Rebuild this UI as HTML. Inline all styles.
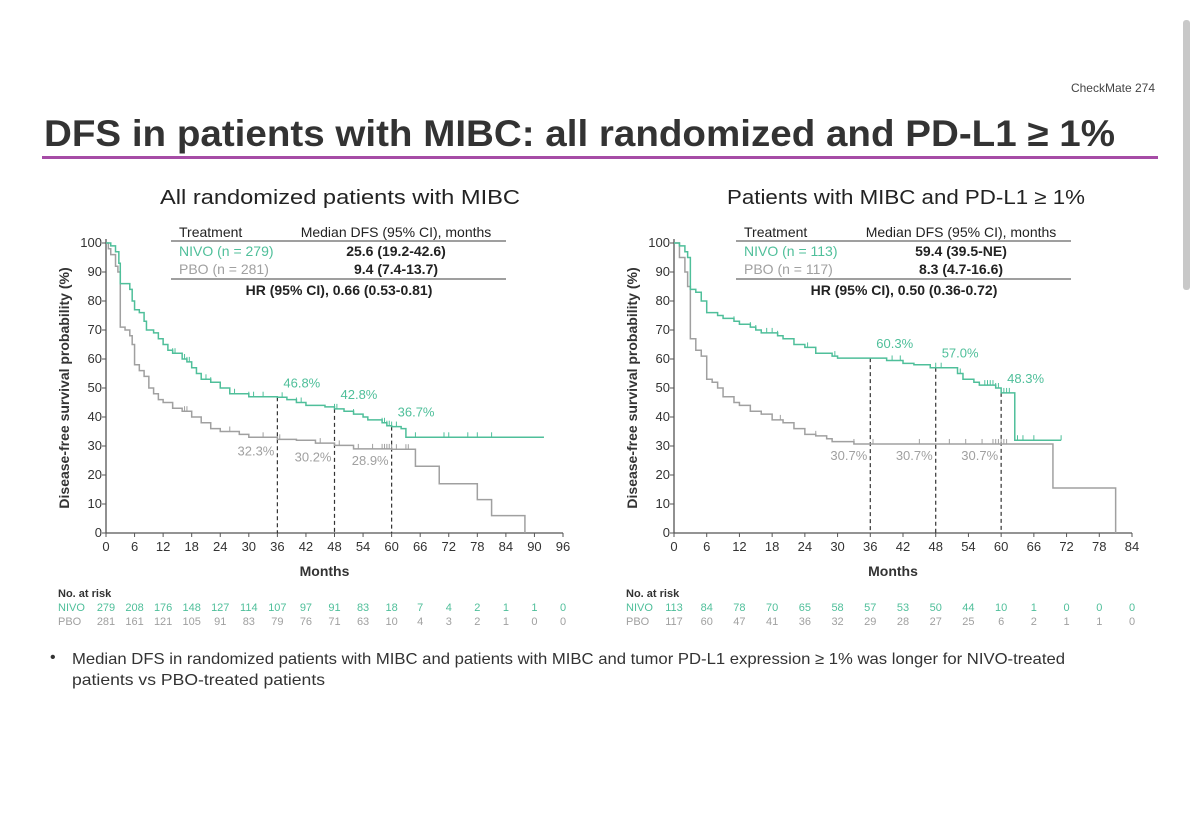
<!DOCTYPE html>
<html><head><meta charset="utf-8"><style>
body{margin:0;background:#fff;}
svg text{font-family:"Liberation Sans","DejaVu Sans",sans-serif;}
</style></head><body>
<svg id="s" width="1200" height="821" viewBox="0 0 1200 821" xmlns="http://www.w3.org/2000/svg">
<rect x="1183" y="20" width="7" height="270" rx="3" fill="#c8c8c8"/>
<text x="1155" y="92" font-size="12" fill="#444" text-anchor="end">CheckMate 274</text>
<text x="44" y="146" font-size="37" fill="#333" font-weight="bold" textLength="1071" lengthAdjust="spacingAndGlyphs">DFS in patients with MIBC: all randomized and PD-L1 ≥ 1%</text>
<rect x="42" y="156" width="1116" height="3" fill="#a64ca6"/>
<text x="160" y="204" font-size="20" fill="#222" textLength="360" lengthAdjust="spacingAndGlyphs">All randomized patients with MIBC</text>
<text x="727" y="204" font-size="20" fill="#222" textLength="358" lengthAdjust="spacingAndGlyphs">Patients with MIBC and PD-L1 ≥ 1%</text>
<g id="L"></g>
<g id="R"></g>
<text x="50" y="662" font-size="16" fill="#333">•</text>
<text x="72" y="664" font-size="16" fill="#333" textLength="993" lengthAdjust="spacingAndGlyphs">Median DFS in randomized patients with MIBC and patients with MIBC and tumor PD-L1 expression ≥ 1% was longer for NIVO-treated</text>
<text x="72" y="685" font-size="16" fill="#333" textLength="253" lengthAdjust="spacingAndGlyphs">patients vs PBO-treated patients</text>
</svg>
<script>
const leftNivoT=[0,1,2,2.7,3,5,5.5,6,7,8,8.5,10,11,12,13,14,16,17,18,19,20,22,24,26,30,36,38,40,42,46,48,50,52,54,55,58,59,60,62,63,92];
const leftNivoS=[100,99,97,93,86,84,80,77,76,73,70,69,67,65,63,62,60,59,57,55,53,52,50,48,47,46.8,46,45,44,43.5,42.8,42,41,40,39,38,37,36.7,36,33,33];
const leftPboT=[0,0.5,1,2,2.5,3,4,5,5.5,6,7,8,9,10,11,12,14,16,18,20,22,24,28,30,36,40,44,48,52,60,65,70,78,81,88];
const leftPboS=[100,98,96,92,90,71,70,68,65,58,56,54,50,48,46,45,43,42,40,38,36,35,34,33,32.3,32,31,30.2,29,28.9,23,17,11.5,6,0];
const rightNivoT=[0,1,2,2.5,3,4,5,6,8,9,11,12,14,15,16,19,20,22,24,26,29,30,36,39,42,44,47,48,52,53,55,56,59,60,62.5,71];
const rightNivoS=[100,99,97,95,84,83,80,76,75,74,73,72,71,70,69,68,67,65,64,62,61,60.3,60.3,59.5,58.5,58,57,57,55,53,52,51,50,48.3,32,32];
const rightPboT=[0,1,2,2.5,3,4,5,6,7,8,9,11,12,14,16,18,20,22,24,26,28,29,33,69.5,81];
const rightPboS=[100,95,90,85,67,63,61,53,52,50,47,45,44,42,41,39,38,36,34,33.5,32.5,31.5,30.7,15.5,0];
const leftNivoCens=[14,14.5,16.5,17,17.5,21,22,24,27,30,31,33,37,40,41,48,48.5,52,58,58.5,59,59.5,60,61,65,71,72,76,78,81];
const leftPboCens=[8,14,16.5,17,26,33,36.5,45,49,53,56,58,58.5,59,59.5,60,61,63,63.5];
const rightNivoCens=[11,14,15,17,18,19,24.5,29.5,40,41.5,48,49,52.5,57,57.5,58,58.5,59,59.5,60,60.5,61,61.5,63,64,66,71];
const rightPboCens=[8,19.5,26,33,36.5,45,50.5,53.5,56.5,58.5,59,59.5,60,60.5,61];
const leftTicks=[0,6,12,18,24,30,36,42,48,54,60,66,72,78,84,90,96];
const rightTicks=[0,6,12,18,24,30,36,42,48,54,60,66,72,78,84];
const yTicks=[0,10,20,30,40,50,60,70,80,90,100];
const leftNivoRisk=[279,208,176,148,127,114,107,97,91,83,18,7,4,2,1,1,0];
const leftPboRisk=[281,161,121,105,91,83,79,76,71,63,10,4,3,2,1,0,0];
const rightNivoRisk=[113,84,78,70,65,58,57,53,50,44,10,1,0,0,0];
const rightPboRisk=[117,60,47,41,36,32,29,28,27,25,6,2,1,1,0];
const leftLandT=[36,48,60], leftNivoLand=[46.8,42.8,36.7], leftPboLand=[32.3,30.2,28.9];
const rightLandT=[36,48,60], rightNivoLand=[60.3,57.0,48.3], rightPboLand=[30.7,30.7,30.7];
const GREEN="#4fbf9a", GRAY="#a0a0a0", NS="http://www.w3.org/2000/svg";
function mk(p,tag,a,txt){const e=document.createElementNS(NS,tag);for(const k in a)e.setAttribute(k,a[k]);if(txt!==undefined)e.textContent=txt;p.appendChild(e);return e;}
function panel(g,x0,xmax,xmaxV,ticks,nT,nS,pT,pS,nC,pC,nR,pR,landT,nL,pL,tbl){
 const y0=533,y1=243;
 const X=v=>x0+(v/xmaxV)*(xmax-x0), Y=v=>y0-(v/100)*(y0-y1);
 let e=mk(g,'line',{x1:x0,y1:y0,x2:xmax,y2:y0,stroke:'#555','stroke-width':1.3});
 
 e=mk(g,'line',{x1:x0,y1:y0,x2:x0,y2:y1-4,stroke:'#555','stroke-width':1.3});
 
 ticks.forEach(t=>{mk(g,'line',{x1:X(t),y1:y0,x2:X(t),y2:y0+4,stroke:'#555'});
  e=mk(g,'text',{x:X(t),y:y0+18,'font-size':13,fill:'#333','text-anchor':'middle'},t);
  });
 yTicks.forEach(t=>{mk(g,'line',{x1:x0-4,y1:Y(t),x2:x0,y2:Y(t),stroke:'#555'});
  e=mk(g,'text',{x:x0-4,y:Y(t)+4,'font-size':13,fill:'#333','text-anchor':'end'},t);
  });
 e=mk(g,'text',{x:(x0+xmax)/2-10,y:576,'font-size':14,fill:'#333','text-anchor':'middle','font-weight':'bold'},'Months');
 
 e=mk(g,'text',{transform:`translate(${x0-37},388) rotate(-90)`,'font-size':14,fill:'#333','text-anchor':'middle','font-weight':'bold'},'Disease-free survival probability (%)');
 
 landT.forEach((t,i)=>{e=mk(g,'line',{x1:X(t),y1:Y(nL[i]),x2:X(t),y2:y0,stroke:'#333','stroke-dasharray':'4,3','stroke-width':1.2});
  });
 function curve(T,S,C,col,name){let d=`M${X(T[0])},${Y(S[0])}`;
  for(let i=1;i<T.length;i++){d+=`H${X(T[i])}V${Y(S[i])}`;}
  const p=mk(g,'path',{d:d,fill:'none',stroke:col,'stroke-width':1.5});
  
  C.forEach(c=>{let s=S[0];for(let i=0;i<T.length;i++){if(T[i]<=c)s=S[i];}
   const m=mk(g,'line',{x1:X(c),y1:Y(s)-5,x2:X(c),y2:Y(s),stroke:col,'stroke-width':1});
   });}
 curve(pT,pS,pC,GRAY,'pbo-curve');curve(nT,nS,nC,GREEN,'nivo-curve');
 landT.forEach((t,i)=>{e=mk(g,'text',{x:X(t)+6,y:Y(nL[i])-10,'font-size':13,fill:GREEN},nL[i].toFixed(1)+'%');
  
  e=mk(g,'text',{x:X(t)-3,y:Y(pL[i])+16,'font-size':13,fill:GRAY,'text-anchor':'end'},pL[i].toFixed(1)+'%');
  });
 const tx=tbl.x;
 mk(g,'text',{x:tx+8,y:237,'font-size':14,fill:'#222'},'Treatment');
 mk(g,'text',{x:tx+225,y:237,'font-size':14,fill:'#222','text-anchor':'middle'},'Median DFS (95% CI), months');
 mk(g,'line',{x1:tx,y1:241,x2:tx+335,y2:241,stroke:'#666','stroke-width':1.3});
 e=mk(g,'text',{x:tx+8,y:256,'font-size':14,fill:GREEN},tbl.n);
 mk(g,'text',{x:tx+225,y:256,'font-size':14,fill:'#222','text-anchor':'middle','font-weight':'bold'},tbl.nm);
 e=mk(g,'text',{x:tx+8,y:274,'font-size':14,fill:GRAY},tbl.p);
 mk(g,'text',{x:tx+225,y:274,'font-size':14,fill:'#222','text-anchor':'middle','font-weight':'bold'},tbl.pm);
 mk(g,'line',{x1:tx,y1:279,x2:tx+335,y2:279,stroke:'#666','stroke-width':1.3});
 mk(g,'text',{x:tx+168,y:295,'font-size':14,fill:'#222','text-anchor':'middle','font-weight':'bold'},tbl.hr);
 e=mk(g,'text',{x:x0-48,y:597,'font-size':11,fill:'#333','font-weight':'bold'},'No. at risk');
 
 mk(g,'text',{x:x0-48,y:611,'font-size':11,fill:GREEN},'NIVO');
 mk(g,'text',{x:x0-48,y:625,'font-size':11,fill:GRAY},'PBO');
 ticks.forEach((t,i)=>{e=mk(g,'text',{x:X(t),y:611,'font-size':11,fill:GREEN,'text-anchor':'middle'},nR[i]);
  
  e=mk(g,'text',{x:X(t),y:625,'font-size':11,fill:GRAY,'text-anchor':'middle'},pR[i]);
  });
}
panel(document.getElementById('L'),106,563,96,leftTicks,leftNivoT,leftNivoS,leftPboT,leftPboS,leftNivoCens,leftPboCens,leftNivoRisk,leftPboRisk,leftLandT,leftNivoLand,leftPboLand,
 {x:171,n:'NIVO (n = 279)',nm:'25.6 (19.2-42.6)',p:'PBO (n = 281)',pm:'9.4 (7.4-13.7)',hr:'HR (95% CI), 0.66 (0.53-0.81)'});
panel(document.getElementById('R'),674,1132,84,rightTicks,rightNivoT,rightNivoS,rightPboT,rightPboS,rightNivoCens,rightPboCens,rightNivoRisk,rightPboRisk,rightLandT,rightNivoLand,rightPboLand,
 {x:736,n:'NIVO (n = 113)',nm:'59.4 (39.5-NE)',p:'PBO (n = 117)',pm:'8.3 (4.7-16.6)',hr:'HR (95% CI), 0.50 (0.36-0.72)'});
</script>
</body></html>
